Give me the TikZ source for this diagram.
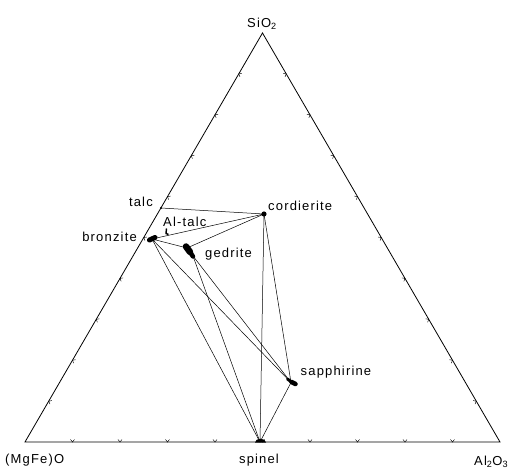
\documentclass[tikz,border=0pt]{standalone}
\usepackage{fontspec}
\setmainfont{Liberation Sans}[LetterSpace=9]
\usetikzlibrary{calc}
\begin{document}
\begin{tikzpicture}[x=1pt,y=-1pt,
  side/.style={line width=0.8pt},
  tie/.style={line width=0.5pt},
  tickmark/.style={line width=0.45pt},
  lab/.style={font=\fontsize{13}{15}\selectfont, inner sep=0pt, anchor=base}]
\useasboundingbox (0,0) rectangle (515,468);
% vertices
\coordinate (A) at (262.5,33);
\coordinate (L) at (25,442);
\coordinate (R) at (500,442);
\draw[side, line join=miter] (L) -- (A) -- (R) -- cycle;
% ticks
\foreach \i in {1,...,9}{
  \draw[tickmark] ($(L)!\i/10!(A)$) +(3.16,-0.48) -- +(0,0) -- +(1.16,2.98);
  \draw[tickmark] ($(R)!\i/10!(A)$) +(-3.16,-0.48) -- +(0,0) -- +(-1.16,2.98);
  \draw[tickmark] ($(L)!\i/10!(R)$) +(-2,-2.5) -- +(0,0) -- +(2,-2.5);
}
% phase points
\coordinate (talc) at (161,208);
\coordinate (cord) at (264,214);
\coordinate (bron) at (152,239);
\coordinate (gedT) at (187,248);
\coordinate (gedB) at (193,256);
\coordinate (sapp) at (291,382.5);
\coordinate (spin) at (260,442);
% tie lines
\draw[tie] (talc) -- (cord);
\draw[tie] (bron) -- (cord);
\draw[tie] (gedT) -- (cord);
\draw[tie] (bron) -- (gedT);
\draw[tie] (bron) -- (spin);
\draw[tie] (bron) -- (sapp);
\draw[tie] (gedB) -- (spin);
\draw[tie] (gedB) -- (sapp);
\draw[tie] (cord) -- (spin);
\draw[tie] (cord) -- (sapp);
\draw[tie] (sapp) -- (spin);
% blobs
\fill (talc) circle (1.2);
\fill (cord) circle (2.6);
\draw[line width=5pt, line cap=round] (149.5,240) -- (155,237.5);
\draw[line width=6.5pt, line cap=round] (186,246.5) -- (190,252);
\draw[line width=4.5pt, line cap=round] (190,252) -- (193,256.5);
\draw[line width=3pt, line cap=round] (287.5,379) -- (292,382.5);
\draw[line width=4.5pt, line cap=round] (291.5,382) -- (295.5,384);
\fill (255,442.5) arc[start angle=180, end angle=360, x radius=5.5, y radius=3.8];
\draw[line width=1.4pt] (166.5,228.5) -- (166,233.5) -- (168.5,234.5);
% labels
\node[lab] (lSi) at (262,27.3) {SiO\textsubscript{2}};
\node[lab, anchor=base west] (lMg) at (5,464) {(MgFe)O};
\node[lab] (lSp) at (259,463) {spinel};
\node[lab, anchor=base west] (lAl) at (474,465) {Al\textsubscript{2}O\textsubscript{3}};
\node[lab, anchor=base east] (lTa) at (153,207) {talc};
\node[lab, anchor=base west] (lCo) at (268,211) {cordierite};
\node[lab, anchor=base west] (lAt) at (163,226.5) {Al-talc};
\node[lab, anchor=base east] (lBr) at (137,241.5) {bronzite};
\node[lab, anchor=base west] (lGe) at (205,258) {gedrite};
\node[lab, anchor=base west] (lSa) at (300.5,375) {sapphirine};
\end{tikzpicture}
\end{document}
